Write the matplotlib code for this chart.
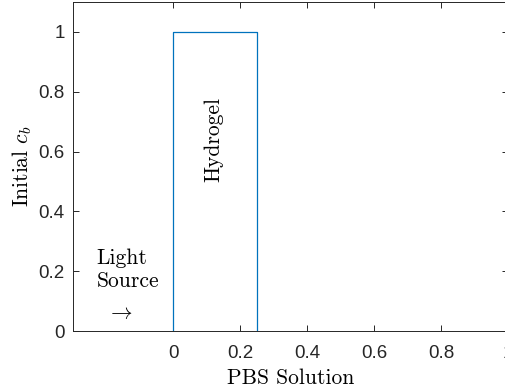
import matplotlib.pyplot as plt

plt.rcParams['mathtext.fontset'] = 'cm'
plt.rcParams['axes.unicode_minus'] = False

# initial concentration profile
x_vals = [0, 0, 0.25, 0.25]
cb_vals = [0, 1, 1, 0]
x_ticks = [0, 0.2, 0.4, 0.6, 0.8, 1]
x_labels = ['0', '0.2', '0.4', '0.6', '0.8', '1']
y_ticks = [0, 0.2, 0.4, 0.6, 0.8, 1]
y_labels = ['0', '0.2', '0.4', '0.6', '0.8', '1']

fig = plt.figure(figsize=(5.06, 3.9), dpi=100)
ax = fig.add_axes([73 / 506, 59 / 390, 435 / 506, 329 / 390])

ax.plot(x_vals, cb_vals, color='#0072BD', lw=0.9)

ax.set_xlim(-0.3, 1)
ax.set_ylim(0, 1.1)
ax.set_xticks(x_ticks)
ax.set_xticklabels(x_labels)
ax.set_yticks(y_ticks)
ax.set_yticklabels(y_labels)

grey = '#262626'
for s in ax.spines.values():
    s.set_color(grey)
    s.set_linewidth(0.7)
ax.tick_params(direction='in', length=4, width=0.7, color=grey,
               labelcolor=grey, labelsize=13.5, top=True, right=True,
               labelfontfamily='Liberation Sans')
ax.tick_params(axis='x', pad=10)
ax.tick_params(axis='y', pad=6)

ax.set_xlabel('PBS Solution', fontfamily='cmr10', fontsize=15.5, labelpad=5)
ax.set_ylabel('Initial $c_b$', fontfamily='cmr10', fontsize=15.5, labelpad=3)

ax.text(0.12, 0.64, 'Hydrogel', rotation=90, fontfamily='cmr10',
        fontsize=15.5, ha='center', va='center')
ax.text(-0.23, 0.205, 'Light\nSource', fontfamily='cmr10', fontsize=15.5,
        ha='left', va='center', linespacing=1.28)
ax.text(-0.158, 0.06, r'$\rightarrow$', fontsize=15.5, ha='center', va='center')

fig.savefig('out.png', dpi=100)
